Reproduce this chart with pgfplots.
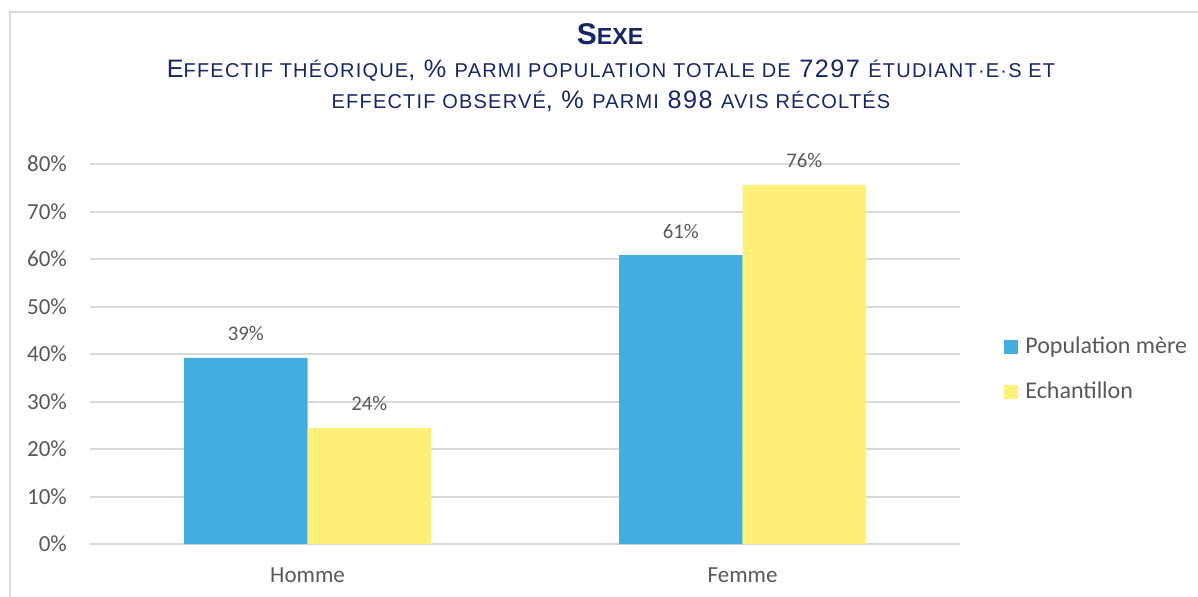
\documentclass[border=0pt]{standalone}
\usepackage{pgfplots}
\pgfplotsset{compat=1.18}
\usepackage{fontspec}
\setmainfont{Carlito}
\newfontfamily\titlefont{Liberation Sans}
\newfontfamily\subfont[LetterSpace=6]{Liberation Sans}
\definecolor{navy}{RGB}{22,38,102}
\definecolor{barblue}{RGB}{68,173,223}
\definecolor{baryellow}{RGB}{255,240,122}
\definecolor{gridgray}{RGB}{217,217,217}
\definecolor{txtgray}{RGB}{89,89,89}
\newcommand\smA[1]{{\fontsize{11.6pt}{13pt}\selectfont #1}}
\newcommand\smB[1]{{\fontsize{10pt}{11pt}\selectfont #1}}
\begin{document}
\begin{tikzpicture}
\path[use as bounding box] (0,0) rectangle (599pt,-298pt);
\draw[gridgray, line width=1pt] (5pt,-310pt) -- (5pt,-6pt) -- (610pt,-6pt);
\node[anchor=base, text=navy, font=\titlefont\bfseries\fontsize{15pt}{17pt}\selectfont] at (305pt,-22pt) {S\smA{EXE}};
\node[anchor=base, text=navy, font=\subfont\fontsize{12.6pt}{14pt}\selectfont] at (305.5pt,-38.7pt) {E\smB{FFECTIF THÉORIQUE}, \% \smB{PARMI POPULATION TOTALE DE} 7297 \smB{ÉTUDIANT·E·S ET}};
\node[anchor=base, text=navy, font=\subfont\fontsize{12.6pt}{14pt}\selectfont] at (305.5pt,-54.2pt) {\smB{EFFECTIF OBSERVÉ}, \% \smB{PARMI} 898 \smB{AVIS RÉCOLTÉS}};
\begin{axis}[
  at={(45pt,-272pt)}, anchor=south west,
  scale only axis, width=435pt, height=190pt,
  xmin=-0.5, xmax=1.5, ymin=0, ymax=80,
  ybar=0pt, bar width=61.75pt,
  xtick={0,1}, xticklabels={Homme,Femme},
  ytick={0,10,...,80},
  yticklabel={\pgfmathprintnumber{\tick}\%},
  /pgf/number format/assume math mode=true,
  ymajorgrids, grid style={gridgray, line width=1pt},
  axis line style={draw=none},
  major tick length=0pt,
  tick label style={text=txtgray, font=\fontsize{11.5pt}{13pt}\selectfont},
  xticklabel style={yshift=-8.5pt},
  yticklabel style={xshift=-8pt},
  nodes near coords={\pgfmathprintnumber[fixed,precision=0]{\pgfplotspointmeta}\%},
  nodes near coords style={anchor=south, inner sep=0pt, yshift=8.3pt, text=txtgray, font=\fontsize{10.4pt}{12pt}\selectfont},
  legend style={at={(1.0505,0.46)}, anchor=west, draw=none, fill=none,
    font=\fontsize{12pt}{14pt}\selectfont, text=txtgray,
    row sep=8.7pt, inner sep=0pt},
  legend cell align=left,
  legend image code/.code={\fill[#1] (0pt,-3.5pt) rectangle (7pt,3.5pt); \path (8.5pt,0pt);},
]
\addplot[fill=barblue, draw=none] coordinates {(0,39.2) (1,60.8)};
\addplot[fill=baryellow, draw=none] coordinates {(0,24.4) (1,75.6)};
\legend{Population mère, Echantillon}
\end{axis}
\end{tikzpicture}
\end{document}
